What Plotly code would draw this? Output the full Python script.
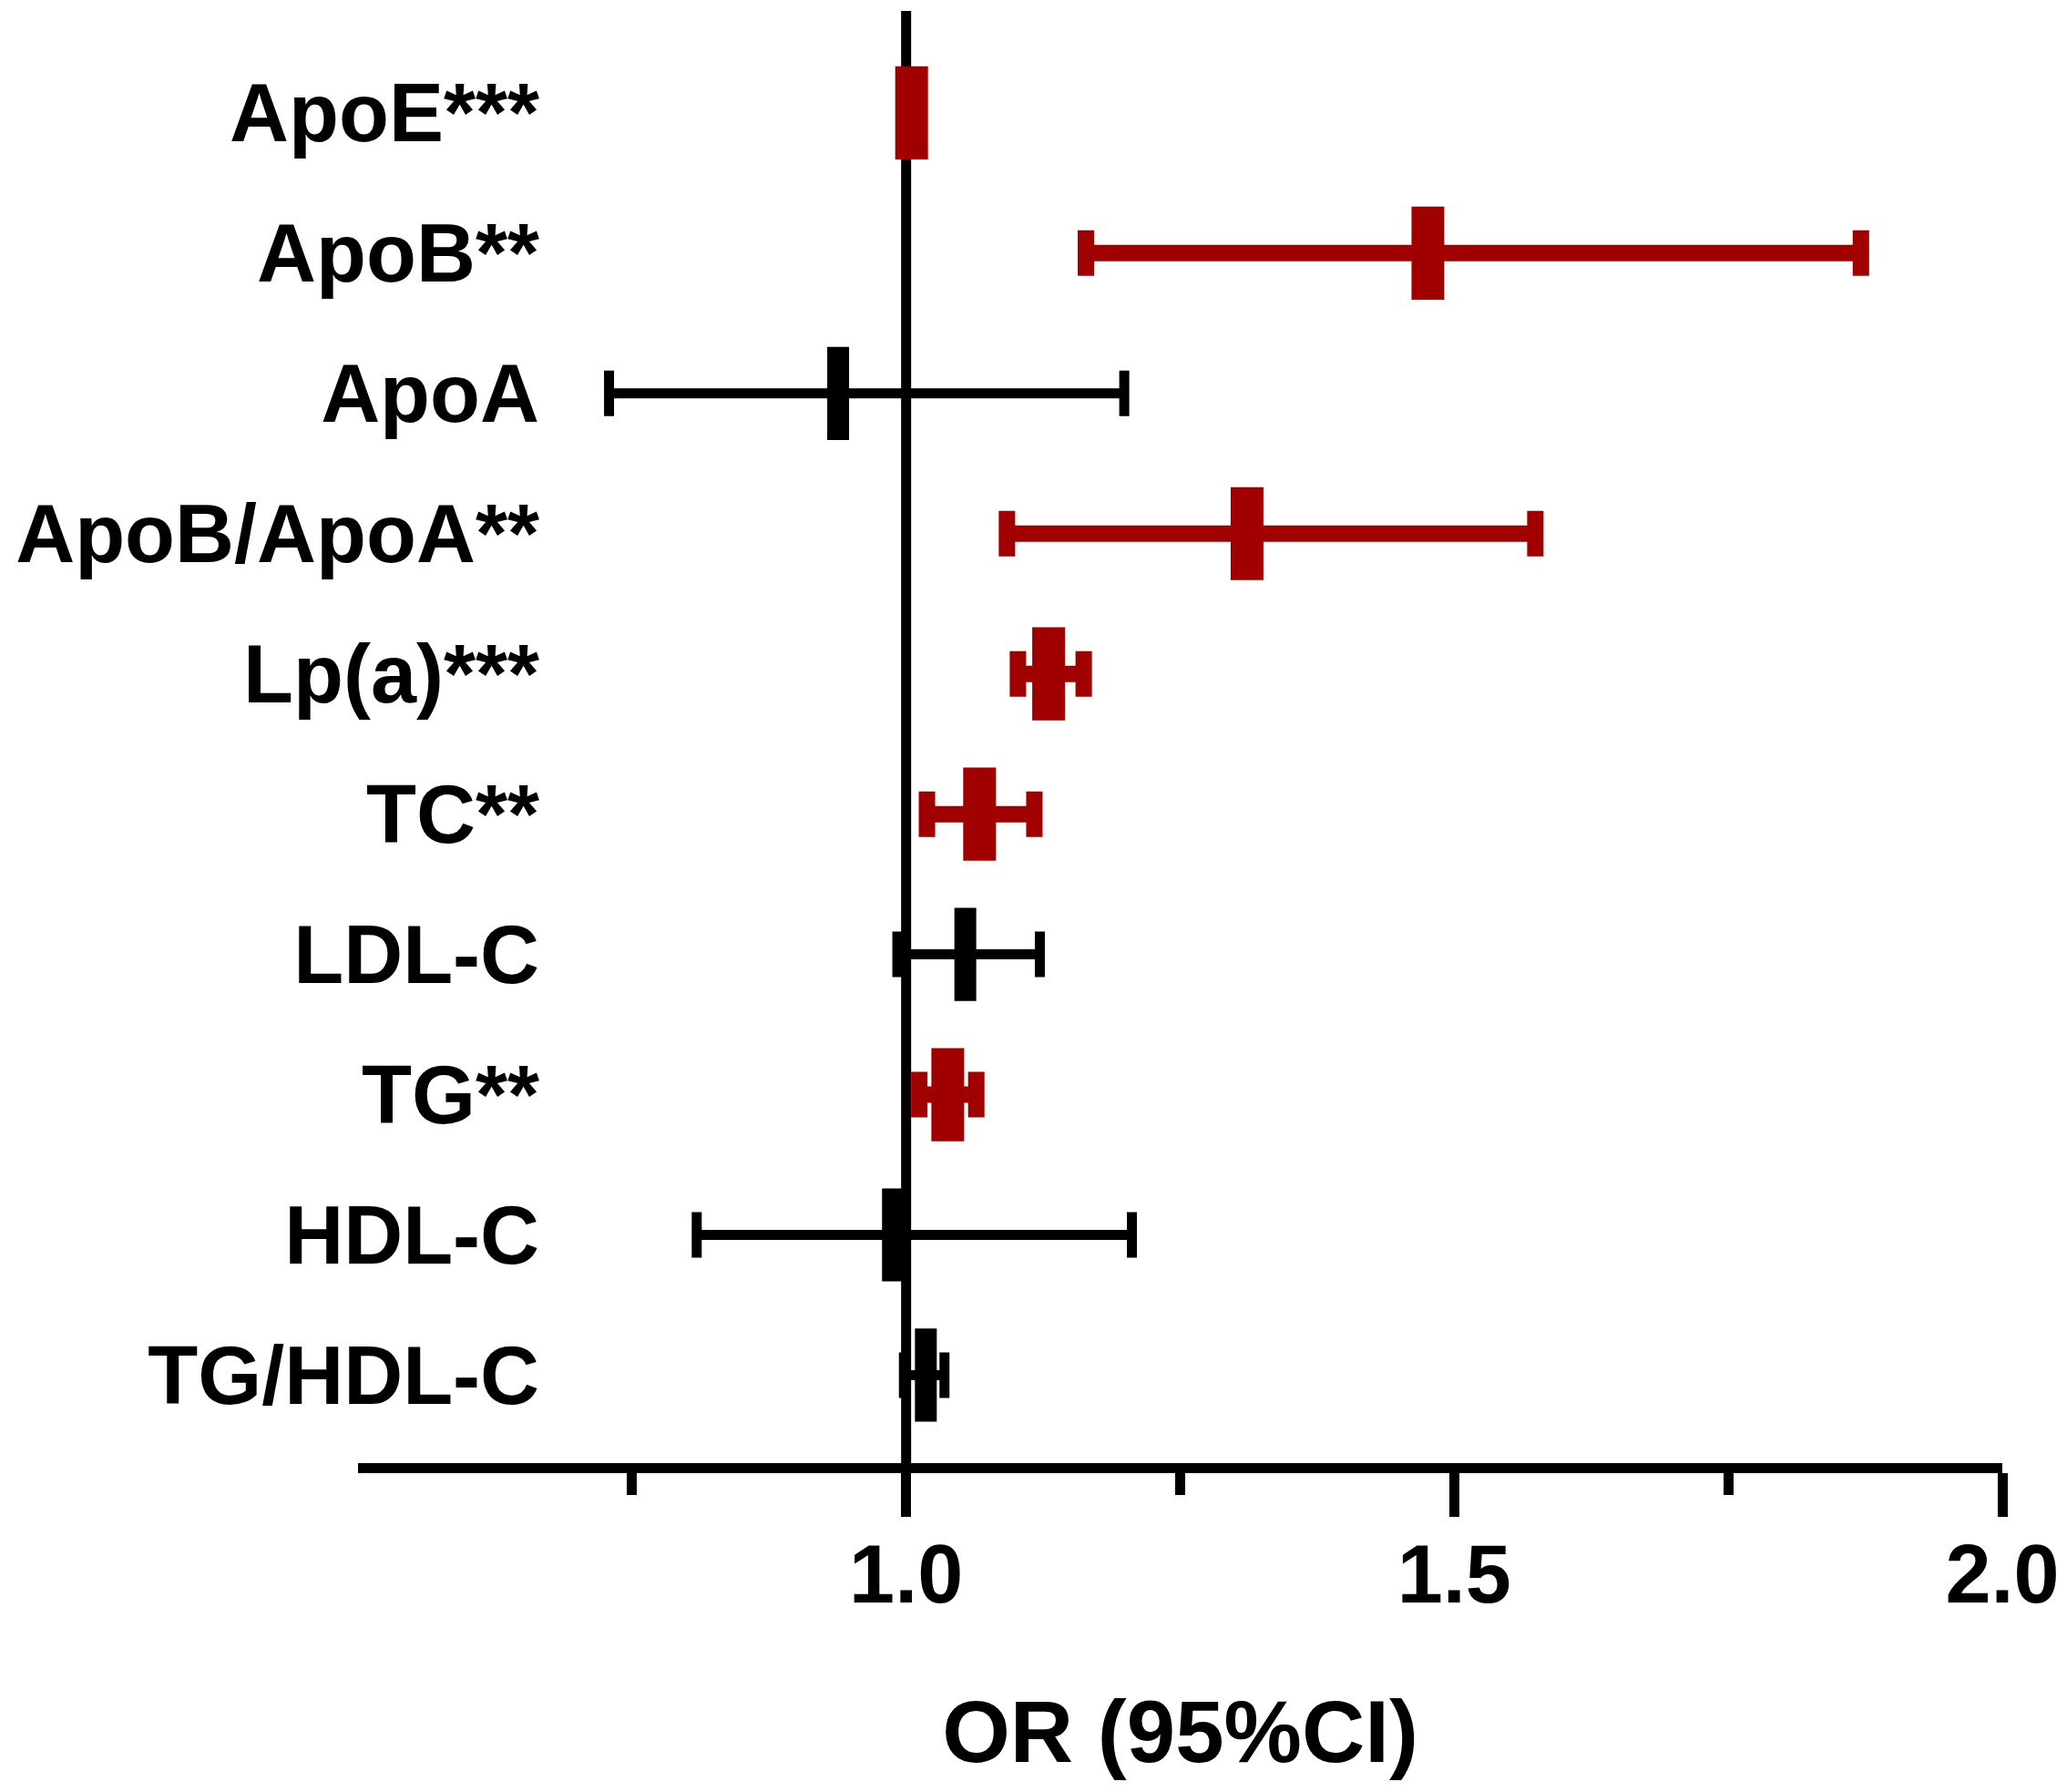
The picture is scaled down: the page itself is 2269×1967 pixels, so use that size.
import plotly.graph_objects as go

# lipid markers, top to bottom
labels = ["ApoE***", "ApoB**", "ApoA", "ApoB/ApoA**", "Lp(a)***",
          "TC**", "LDL-C", "TG**", "HDL-C", "TG/HDL-C"]
odds = [1.005, 1.476, 0.938, 1.311, 1.130, 1.067, 1.054, 1.038, 0.988, 1.018]
ci_low = [1.000, 1.164, 0.729, 1.092, 1.102, 1.019, 0.992, 1.012, 0.809, 0.998]
ci_high = [1.010, 1.871, 1.199, 1.574, 1.162, 1.117, 1.122, 1.064, 1.206, 1.035]
significant = [True, True, False, True, True, True, False, True, False, False]

x_ticks = [1.0, 1.5, 2.0]
x_minor = [0.75, 1.25, 1.75]

RED = "#A00000"
BLACK = "#000000"


def make_trace(flag, color, thick, box_w):
    idx = [i for i, s in enumerate(significant) if s == flag]
    return go.Scatter(
        x=[odds[i] for i in idx],
        y=[labels[i] for i in idx],
        mode="markers",
        # line-ns length is 1.4 * size -> ~102 px tall box
        marker=dict(symbol="line-ns", size=73, color=color,
                    line=dict(color=color, width=box_w)),
        error_x=dict(type="data", symmetric=False,
                     array=[ci_high[i] - odds[i] for i in idx],
                     arrayminus=[odds[i] - ci_low[i] for i in idx],
                     color=color, thickness=thick, width=25),
        showlegend=False,
        cliponaxis=False,
    )


fig = go.Figure([make_trace(False, BLACK, 11, 24), make_trace(True, RED, 18, 36)])

font_family = "Liberation Sans, Arial, sans-serif"

# page body has an 8px margin, so the figure is 8px smaller and shifted
fig.update_layout(
    width=2261, height=1959,
    margin=dict(l=385, r=71, t=4, b=361),
    plot_bgcolor="white", paper_bgcolor="white",
    font=dict(family=font_family, size=90, color="black", weight="bold"),
    shapes=[dict(type="line", xref="x", yref="paper", x0=1.0, x1=1.0,
                 y0=0, y1=1, line=dict(color="black", width=11), layer="below")],
    xaxis=dict(
        range=[0.5, 2.0], showgrid=False, zeroline=False,
        showline=True, linecolor="black", linewidth=11,
        tickmode="array", tickvals=x_ticks, ticktext=["1.0", "1.5", "2.0"],
        ticks="outside", ticklen=48, tickwidth=11, tickcolor="black",
        ticklabelstandoff=-14,
        tickfont=dict(size=90, family=font_family, weight="bold"),
        minor=dict(tickmode="array", tickvals=x_minor, ticks="outside",
                   ticklen=24, tickwidth=11, tickcolor="black", showgrid=False),
        title=dict(text="OR (95%CI)", standoff=94,
                   font=dict(size=96, family=font_family, weight="bold")),
    ),
    yaxis=dict(
        type="category", categoryorder="array", categoryarray=labels,
        range=[9.627, -0.727], showgrid=False, zeroline=False, showline=False,
        anchor="free", position=0.1103, ticks="",
        tickfont=dict(size=90, family=font_family, weight="bold"),
    ),
)

fig.write_html("out.html")
